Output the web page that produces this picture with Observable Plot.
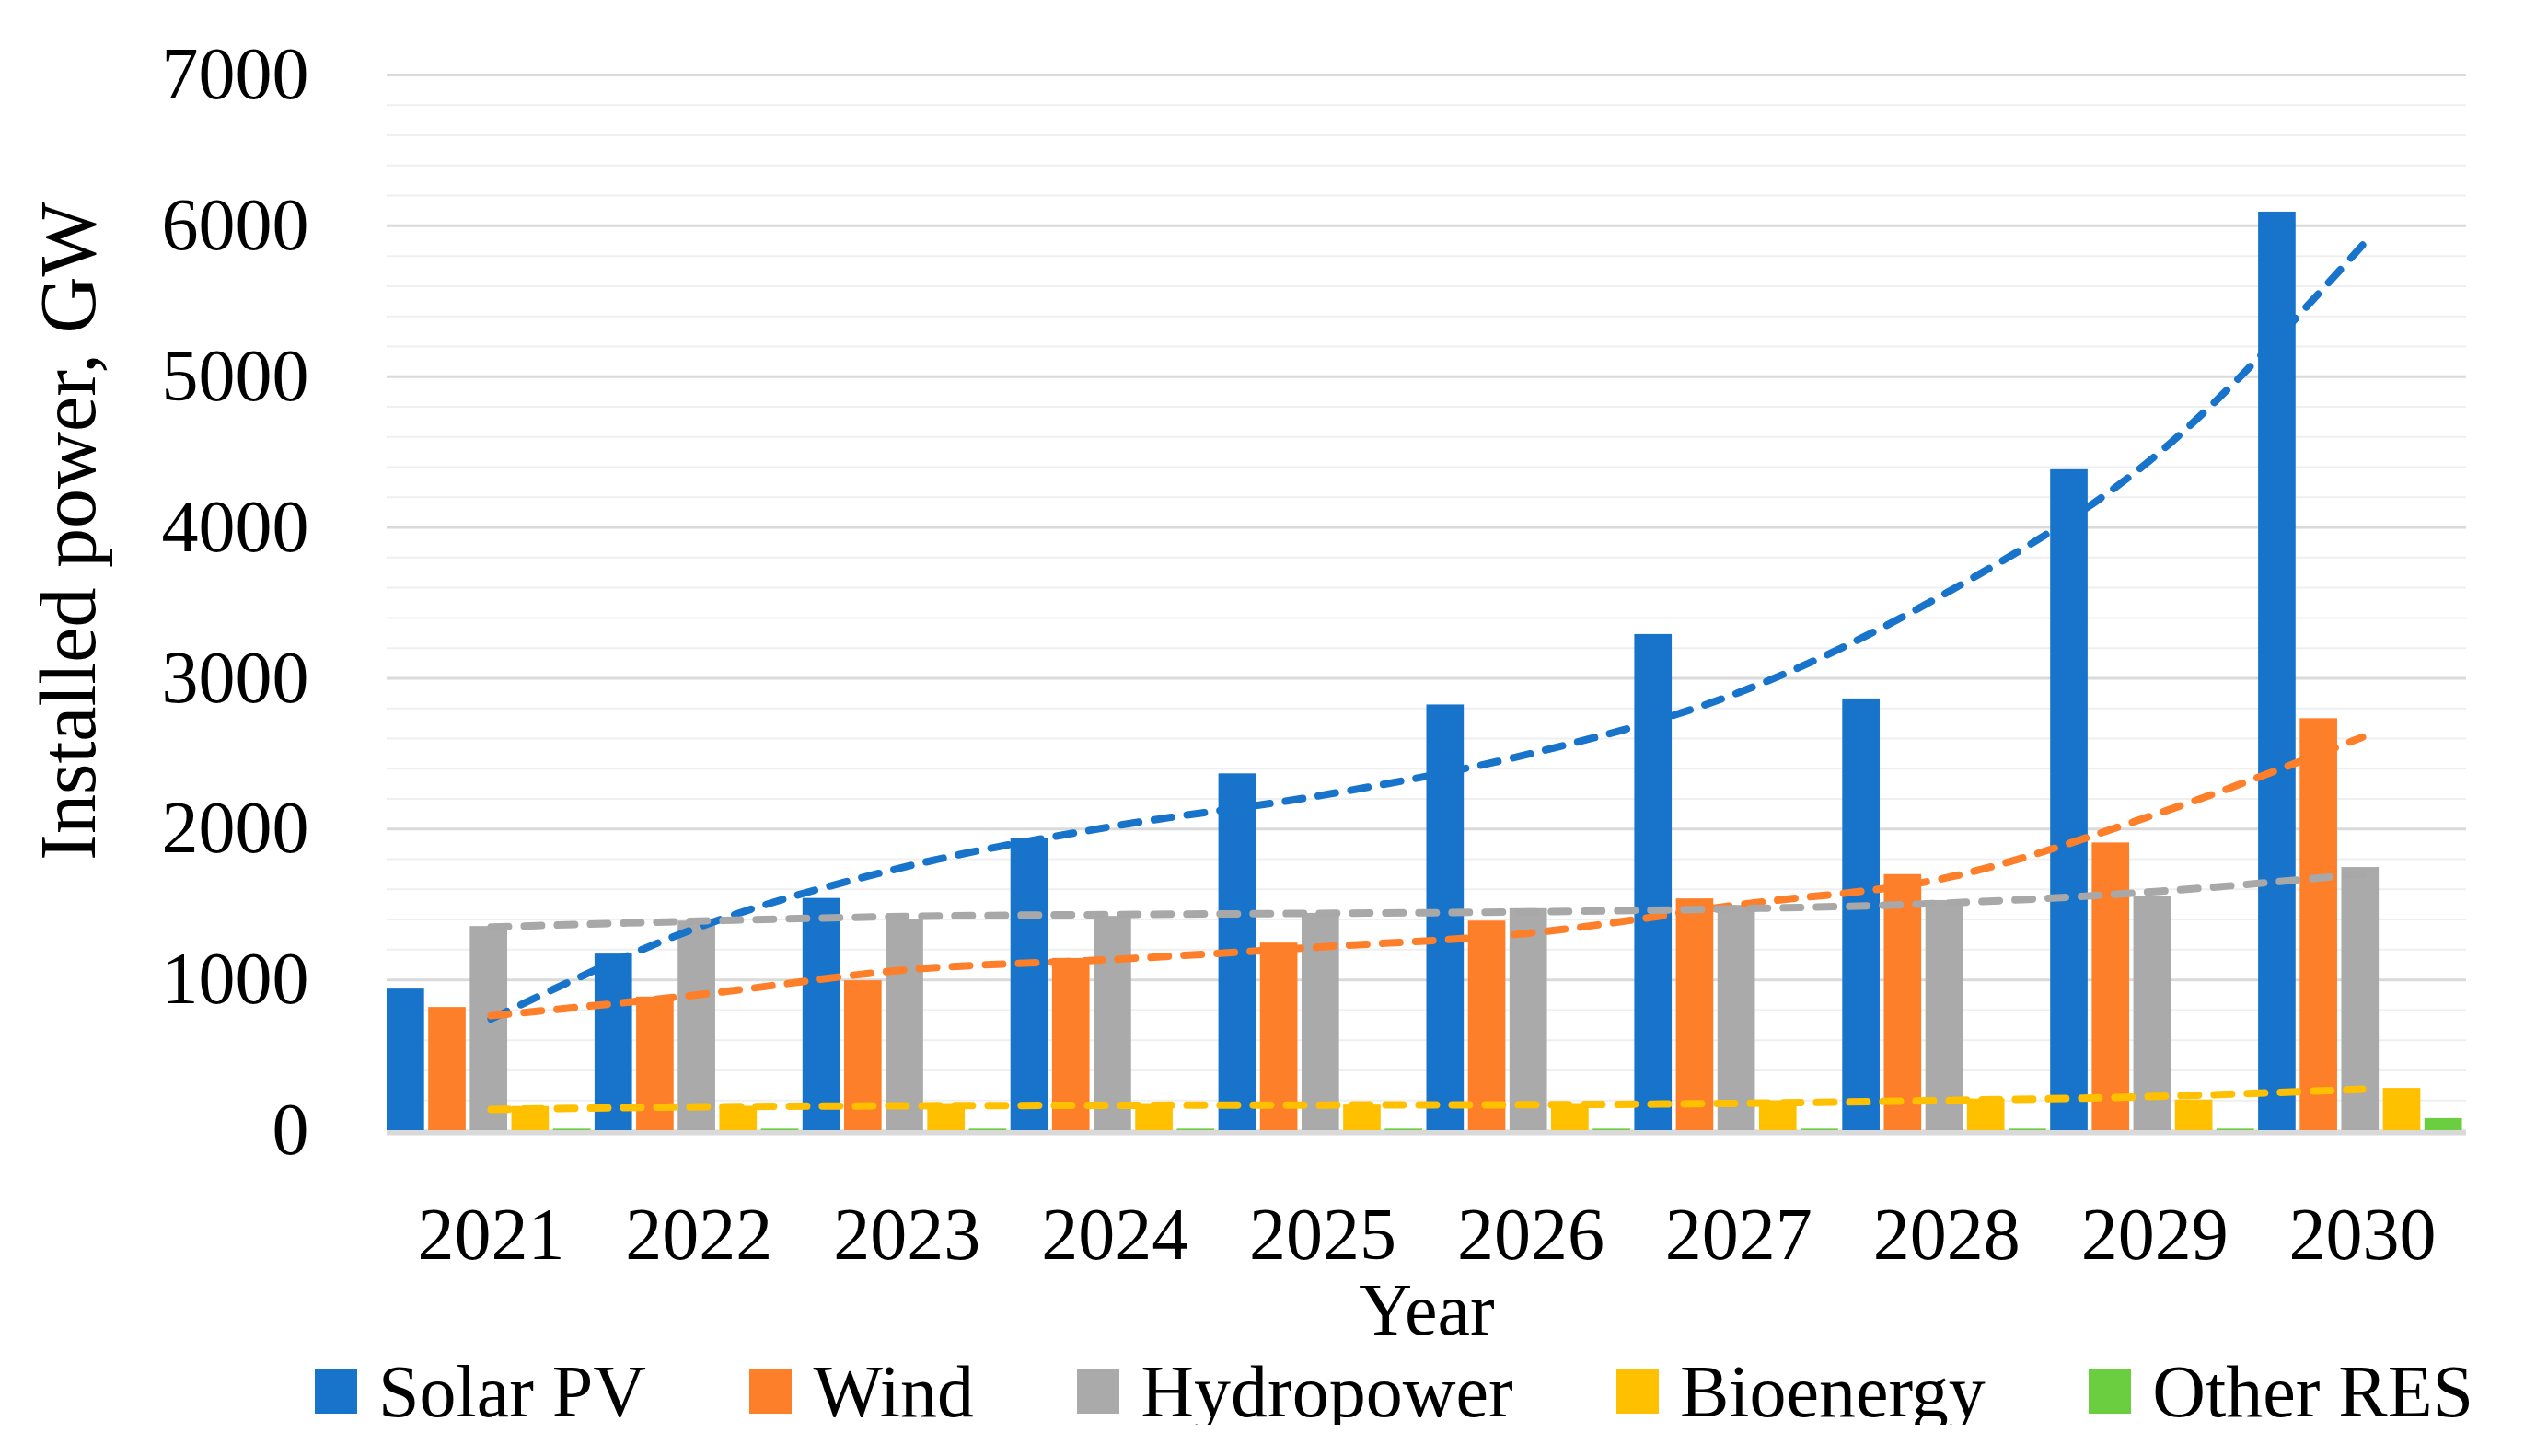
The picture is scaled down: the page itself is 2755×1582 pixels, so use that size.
<!DOCTYPE html>
<html>
<head>
<meta charset="utf-8">
<script src="https://cdn.jsdelivr.net/npm/d3@7"></script>
<script src="https://cdn.jsdelivr.net/npm/@observablehq/plot@0.6"></script>
<style>
  html, body { margin: 0; padding: 0; background: #ffffff; }
  #wrap { position: relative; width: 2755px; }
  #chart svg { display: block; overflow: visible; }
  #ylabel {
    position: absolute; left: 74px; top: 577px;
    transform: translate(-50%, -50%) rotate(-90deg);
    white-space: nowrap;
    font-family: "Liberation Serif", serif; font-size: 86px; line-height: 1; color: #000;
  }
  #legend {
    display: flex; justify-content: space-between; align-items: center;
    margin-left: 342px; width: 2345px; height: 72px; margin-top: -24px;
    font-family: "Liberation Serif", serif; font-size: 80px; line-height: 0.9; color: #000;
  }
  .item { display: flex; align-items: center; }
  .sw { width: 46px; height: 48px; margin-right: 23px; }
</style>
</head>
<body>
<div id="wrap">
  <div id="chart"></div>
  <div id="ylabel"></div>
  <div id="legend"></div>
</div>
<script>
// ---- data ----
const years = [2021, 2022, 2023, 2024, 2025, 2026, 2027, 2028, 2029, 2030];
const seriesNames = ["Solar PV", "Wind", "Hydropower", "Bioenergy", "Other RES"];
const solarPV    = [939, 1171, 1540, 1939, 2366, 2823, 3290, 2863, 4383, 6091];
const wind       = [817, 886, 994, 1142, 1244, 1390, 1537, 1698, 1908, 2732];
const hydropower = [1354, 1390, 1402, 1421, 1441, 1472, 1494, 1526, 1551, 1745];
const bioenergy  = [160, 162, 180, 180, 170, 180, 198, 210, 203, 280];
const otherRES   = [10, 10, 10, 10, 10, 10, 10, 10, 10, 80];
// trend lines (dashed), read at each year's centre
const trendSolarPV    = [740, 1350, 1752, 2020, 2225, 2500, 2905, 3567, 4470, 5872];
const trendWind       = [762, 902, 1067, 1136, 1219, 1311, 1498, 1677, 2095, 2610];
const trendHydropower = [1350, 1390, 1421, 1433, 1441, 1451, 1472, 1509, 1585, 1702];
const trendBioenergy  = [140, 158, 165, 168, 170, 172, 181, 200, 227, 274];
const yTicks = [0, 1000, 2000, 3000, 4000, 5000, 6000, 7000];
const yLabel = "Installed power, GW";
const xLabel = "Year";

// ---- styles ----
const colors = ["#1874CB", "#FE7F2A", "#AAAAAA", "#FFC000", "#6BCD40"];
const trendColors = ["#1874CB", "#FE7F2A", "#A8A8A8", "#FFC000"];
const FONT = "Liberation Serif";

const values = [solarPV, wind, hydropower, bioenergy, otherRES];
const bars = [];
years.forEach((yr, j) => values.forEach((arr, i) => bars.push({year: yr, idx: i, series: seriesNames[i], value: arr[j]})));

const trendArrs = [trendSolarPV, trendWind, trendHydropower, trendBioenergy];
const trends = [];
trendArrs.forEach((arr, i) => years.forEach((yr, j) => trends.push({year: yr, series: seriesNames[i], value: arr[j]})));

const minorTicks = d3.range(0, 7001, 200).filter(v => v % 1000 !== 0);

const plot = Plot.plot({
  width: 2755,
  height: 1500,
  marginLeft: 420,
  marginRight: 76,
  marginTop: 81,
  marginBottom: 272,
  style: {fontFamily: FONT, fontSize: "80px", color: "#000", background: "#ffffff"},
  x: {domain: [2020.5, 2030.5], axis: null},
  y: {domain: [0, 7000], axis: null},
  color: {domain: seriesNames, range: colors},
  marks: [
    Plot.gridY(minorTicks, {stroke: "#efefef", strokeOpacity: 1, strokeWidth: 2}),
    Plot.gridY(yTicks.filter(v => v > 0), {stroke: "#dadada", strokeOpacity: 1, strokeWidth: 3}),
    Plot.ruleY([0], {stroke: "#d9d9d9", strokeWidth: 6, dy: 2}),
    Plot.rectY(bars, {
      x1: d => d.year - 0.5 + d.idx * 0.2,
      x2: d => d.year - 0.5 + (d.idx + 1) * 0.2,
      y1: 0, y2: "value",
      fill: "series",
      insetRight: 4.5
    }),
    Plot.line(trends, {
      x: "year", y: "value", z: "series",
      stroke: d => trendColors[seriesNames.indexOf(d.series)],
      strokeWidth: 8, strokeDasharray: "19 17", strokeLinecap: "round",
      curve: "monotone-x"
    }),
    Plot.axisY(yTicks, {anchor: "left", tickSize: 0, tickPadding: 85, fontSize: 80, tickFormat: d => String(d), label: null}),
    Plot.axisX(years, {anchor: "bottom", tickSize: 0, tickPadding: 83, fontSize: 80, tickFormat: d => String(d), label: null}),
    Plot.text([xLabel], {
      frameAnchor: "bottom", lineAnchor: "top", dy: 165,
      fontSize: 80, text: d => d, fill: "#000"
    })
  ]
});
document.getElementById("chart").appendChild(plot);
document.getElementById("ylabel").textContent = yLabel;

// ---- legend ----
const legend = document.getElementById("legend");
seriesNames.forEach((name, i) => {
  const item = document.createElement("div");
  item.className = "item";
  const sw = document.createElement("div");
  sw.className = "sw";
  sw.style.background = colors[i];
  const label = document.createElement("span");
  label.textContent = name;
  item.appendChild(sw);
  item.appendChild(label);
  legend.appendChild(item);
});
</script>
</body>
</html>
